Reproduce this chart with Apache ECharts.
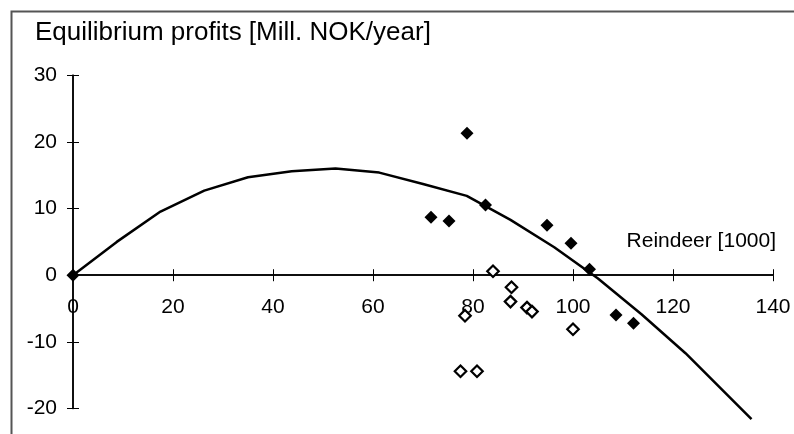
<!DOCTYPE html>
<html>
<head>
<meta charset="utf-8">
<script src="https://cdn.jsdelivr.net/npm/echarts@6/dist/echarts.min.js"></script>
<style>
html,body{margin:0;padding:0;background:#fff;}
#chart{width:794px;height:434px;}
</style>
</head>
<body>
<div id="chart"></div>
<script>
// Curve: equilibrium profit function
const curveX = [0, 8.75, 17.5, 26.25, 35, 43.75, 52.5, 61.25, 70, 78.75, 87.5, 96.25, 105, 113.75, 122.5, 135.7];
const curveY = [0, 5.0, 9.55, 12.7, 14.7, 15.6, 16.0, 15.4, 13.7, 11.9, 8.3, 4.2, -0.5, -5.9, -11.7, -21.6];
// Filled diamonds
const filledX = [0, 71.6, 75.2, 78.8, 82.5, 94.8, 99.6, 103.3, 108.6, 112.1];
const filledY = [0, 8.7, 8.15, 21.3, 10.55, 7.5, 4.8, 0.9, -5.96, -7.2];
// Open diamonds
const openX = [84.0, 87.7, 87.5, 90.8, 91.8, 78.4, 100.0, 77.5, 80.8];
const openY = [0.6, -1.8, -3.96, -4.86, -5.46, -6.07, -8.1, -14.4, -14.4];

const titleText = 'Equilibrium profits [Mill. NOK/year]';
const xName = 'Reindeer [1000]';

const zip = (a, b) => a.map((v, i) => [v, b[i]]);
const FONT = 'Liberation Sans, Arial, sans-serif';
const chart = echarts.init(document.getElementById('chart'), null, {renderer: 'canvas'});

const Y_MIN = -20, Y_MAX = 30;
const GRID_TOP = 75.3, GRID_BOTTOM = 25.5, H = 434;
const plotH = H - GRID_TOP - GRID_BOTTOM;
// shift x axis up from the grid bottom to the y = 0 line
const xOffset = -plotH * (0 - Y_MIN) / (Y_MAX - Y_MIN);

const xBase = {
  type: 'value', min: 0, max: 140, interval: 20, position: 'bottom', offset: xOffset,
  axisLine: {onZero: false, lineStyle: {color: '#000', width: 1.5}},
  splitLine: {show: false}
};
const yBase = {
  type: 'value', min: Y_MIN, max: Y_MAX, interval: 10, position: 'left',
  axisLine: {onZero: false, lineStyle: {color: '#000', width: 1.5}},
  splitLine: {show: false}
};

chart.setOption({
  backgroundColor: '#fff',
  animation: false,
  title: {
    text: titleText, left: 30, top: 15,
    textStyle: {fontFamily: FONT, fontSize: 26, fontWeight: 'normal', color: '#000'}
  },
  graphic: [{
    type: 'polyline',
    shape: {points: [[11.5, 434], [11.5, 11.5], [794, 11.5]]},
    style: {stroke: '#555', lineWidth: 2, fill: null}
  }],
  grid: {left: 73, right: 21, top: GRID_TOP, bottom: GRID_BOTTOM, containLabel: false},
  xAxis: [
    Object.assign({}, xBase, {
      axisTick: {show: true, inside: false, length: 6, lineStyle: {color: '#000', width: 1}},
      axisLabel: {show: true, margin: 21, fontFamily: FONT, fontSize: 21, color: '#000'},
      name: xName, nameLocation: 'end', nameGap: 3,
      nameTextStyle: {fontFamily: FONT, fontSize: 21, color: '#000', align: 'right', verticalAlign: 'bottom', lineHeight: 21, padding: [0, 0, 24, 0]}
    }),
    Object.assign({}, xBase, {
      axisTick: {show: true, inside: true, length: 6, lineStyle: {color: '#000', width: 1}},
      axisLabel: {show: false}
    })
  ],
  yAxis: [
    Object.assign({}, yBase, {
      axisTick: {show: true, inside: false, length: 6, lineStyle: {color: '#000', width: 1}},
      axisLabel: {show: true, margin: 16, fontFamily: FONT, fontSize: 21, color: '#000'}
    }),
    Object.assign({}, yBase, {
      axisTick: {show: true, inside: true, length: 6, lineStyle: {color: '#000', width: 1}},
      axisLabel: {show: false}
    })
  ],
  series: [
    {
      type: 'line', data: zip(curveX, curveY), symbol: 'none', clip: false,
      lineStyle: {color: '#000', width: 2.5}, z: 2
    },
    {
      type: 'scatter', data: zip(filledX, filledY), symbol: 'diamond', symbolSize: 13,
      itemStyle: {color: '#000', opacity: 1}, z: 3
    },
    {
      type: 'scatter', data: zip(openX, openY), symbol: 'diamond', symbolSize: 11.5,
      itemStyle: {color: '#fff', borderColor: '#000', borderWidth: 2.2, opacity: 1}, z: 3
    }
  ]
});
</script>
</body>
</html>
